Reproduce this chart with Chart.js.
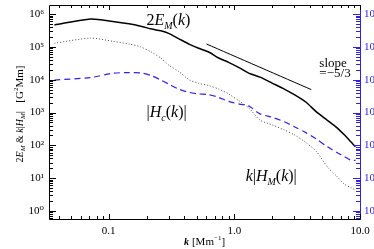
<!DOCTYPE html>
<html>
<head>
<meta charset="utf-8">
<script src="https://cdn.jsdelivr.net/npm/chart.js@4/dist/chart.umd.min.js"></script>
<style>
  html, body { margin: 0; padding: 0; background: #fff; overflow: hidden; width: 374px; height: 249px; }
  canvas { display: block; }
</style>
</head>
<body>
<canvas id="c" width="400" height="249"></canvas>
<script>
// ---- data ----
const kValues = [0.037, 0.072, 0.108, 0.145, 0.18, 0.22, 0.26, 0.30, 0.36, 0.44, 0.52, 0.63, 0.75, 0.9,
                 1.1, 1.3, 1.6, 2.0, 2.5, 3.0, 3.7, 4.5, 5.5, 6.5, 7.5, 8.5, 9.2];
const twoEM = [4.7e5, 7.1e5, 6.0e5, 5.1e5, 4.3e5, 3.5e5, 3.1e5, 2.6e5, 1.8e5, 1.2e5, 9.1e4, 6.9e4, 4.6e4, 3.4e4,
               2.3e4, 1.6e4, 1.2e4, 7.9e3, 5.2e3, 3.5e3, 2.1e3, 1.05e3, 580, 355, 210, 126, 91];
const kHM = [1.3e5, 1.86e5, 1.48e5, 1.23e5, 1.0e5, 6.9e4, 4.6e4, 2.8e4, 1.8e4, 9.8e3, 7.8e3, 6.6e3, 5.2e3, 3.7e3,
             2.2e3, 1.4e3, 590, 420, 295, 210, 123, 65, 22, 11.7, 6.6, 5.1, 4.4];
const Hc = [9.8e3, 1.17e4, 1.58e4, 1.66e4, 1.62e4, 1.32e4, 9.8e3, 7.4e3, 5.2e3, 4.1e3, 3.7e3, 3.5e3, 2.9e3, 2.2e3,
            1.8e3, 1.6e3, 910, 720, 525, 370, 245, 155, 91, 62, 46, 35, 35];
const slopeK = [0.6, 4.1];
const slopeVal = [1.23e5, 5.0e3];

const xTickValues = [0.1, 1, 10];
const xTickLabels = ['0.1', '1.0', '10.0'];
const yTickValues = [1, 10, 100, 1e3, 1e4, 1e5, 1e6];
const yTickLabels = ['10\u2070', '10\u00b9', '10\u00b2', '10\u00b3', '10\u2074', '10\u2075', '10\u2076'];

const X_MIN = 0.0335, X_MAX = 10, Y_MIN = 0.57, Y_MAX = 1.9e6;
const BLUE = '#3322dd';
const SERIF = "'Liberation Serif', 'DejaVu Serif', serif";

function pts(xs, ys) { return xs.map((k, i) => ({ x: k, y: ys[i] })); }

function drawRich(ctx, parts, x, y, align) {
  let w = 0;
  for (const p of parts) { ctx.font = p.font; w += ctx.measureText(p.t).width + (p.gap || 0); }
  let cx = align === 'center' ? x - w / 2 : x;
  for (const p of parts) {
    ctx.font = p.font;
    ctx.fillStyle = p.color || '#000';
    ctx.fillText(p.t, cx, y + (p.dy || 0));
    cx += ctx.measureText(p.t).width + (p.gap || 0);
  }
}

const framePlugin = {
  id: 'frame',
  afterDraw(chart) {
    const ctx = chart.ctx, ca = chart.chartArea;
    const xs = chart.scales.x, ys = chart.scales.y;
    ctx.save();
    ctx.lineWidth = 1;
    // frame
    ctx.strokeStyle = '#000';
    ctx.beginPath();
    ctx.moveTo(ca.right, ca.top + 0.5); ctx.lineTo(ca.left + 0.5, ca.top + 0.5);
    ctx.lineTo(ca.left + 0.5, ca.bottom + 0.5); ctx.lineTo(ca.right, ca.bottom + 0.5);
    ctx.stroke();
    ctx.strokeStyle = BLUE;
    ctx.beginPath();
    ctx.moveTo(ca.right + 0.5, ca.top); ctx.lineTo(ca.right + 0.5, ca.bottom + 1);
    ctx.stroke();
    // x ticks (bottom and top, inward)
    ctx.strokeStyle = '#000';
    ctx.beginPath();
    for (let d = -2; d <= 1; d++) {
      for (let m = 1; m <= 9; m++) {
        const v = m * Math.pow(10, d);
        if (v < X_MIN || v > X_MAX * 1.0001) continue;
        const px = Math.round(xs.getPixelForValue(v)) + 0.5;
        const len = m === 1 ? 5 : 3;
        ctx.moveTo(px, ca.bottom); ctx.lineTo(px, ca.bottom - len);
        ctx.moveTo(px, ca.top); ctx.lineTo(px, ca.top + len);
      }
    }
    ctx.stroke();
    // y ticks (left black, right blue)
    const yt = [];
    for (let d = -1; d <= 6; d++) {
      for (let m = 1; m <= 9; m++) {
        const v = m * Math.pow(10, d);
        if (v < Y_MIN || v > Y_MAX) continue;
        yt.push([Math.round(ys.getPixelForValue(v)) + 0.5, m === 1 ? 7 : 4]);
      }
    }
    ctx.beginPath();
    for (const [py, len] of yt) { ctx.moveTo(ca.left, py); ctx.lineTo(ca.left + len, py); }
    ctx.stroke();
    ctx.strokeStyle = BLUE;
    ctx.beginPath();
    for (const [py, len] of yt) { ctx.moveTo(ca.right, py); ctx.lineTo(ca.right - len, py); }
    ctx.stroke();

    // annotations
    ctx.textBaseline = 'alphabetic';
    const it16 = 'italic 16px ' + SERIF, up16 = '16px ' + SERIF, it10 = 'italic 10px ' + SERIF;
    drawRich(ctx, [
      { t: '2', font: up16 }, { t: 'E', font: it16 }, { t: 'M', font: it10, dy: 4 },
      { t: '(', font: up16 }, { t: 'k', font: it16 }, { t: ')', font: up16 }
    ], xs.getPixelForValue(0.2), ys.getPixelForValue(4.7e5), 'left');
    drawRich(ctx, [
      { t: '|', font: up16 }, { t: 'H', font: it16 }, { t: 'c', font: it10, dy: 4 },
      { t: '(', font: up16 }, { t: 'k', font: it16 }, { t: ')|', font: up16 }
    ], xs.getPixelForValue(0.2), ys.getPixelForValue(750), 'left');
    drawRich(ctx, [
      { t: 'k', font: it16 }, { t: '|', font: up16 }, { t: 'H', font: it16 }, { t: 'M', font: it10, dy: 4 },
      { t: '(', font: up16 }, { t: 'k', font: it16 }, { t: ')|', font: up16 }
    ], xs.getPixelForValue(1.23), ys.getPixelForValue(8.2), 'left');
    ctx.font = '13px ' + SERIF;
    ctx.fillStyle = '#000';
    ctx.fillText('slope', xs.getPixelForValue(4.75), ys.getPixelForValue(2.4e4));
    ctx.fillText('=\u22125/3', xs.getPixelForValue(4.75), ys.getPixelForValue(1.2e4));

    // axis titles
    ctx.textBaseline = 'middle';
    const itB = 'italic bold 10px ' + SERIF, up11 = '11px ' + SERIF, sup = '7px ' + SERIF;
    drawRich(ctx, [
      { t: 'k', font: itB, gap: 3 }, { t: '[Mm', font: up11 }, { t: '\u22121', font: sup, dy: -4 }, { t: ']', font: up11 }
    ], (ca.left + ca.right) / 2, 242, 'center');
    ctx.translate(20, (ca.top + ca.bottom) / 2 + 2);
    ctx.rotate(-Math.PI / 2);
    const it10b = 'italic 10px ' + SERIF, sub7 = 'italic 7px ' + SERIF;
    drawRich(ctx, [
      { t: '2', font: '10px ' + SERIF }, { t: 'E', font: it10b }, { t: 'M', font: sub7, dy: 3 },
      { t: ' & ', font: '10px ' + SERIF }, { t: 'k', font: it10b }, { t: '|', font: '10px ' + SERIF },
      { t: 'H', font: it10b }, { t: 'M', font: sub7, dy: 3 }, { t: '|   [G', font: up11 },
      { t: '2', font: sup, dy: -4 }, { t: 'Mm]', font: up11 }
    ], 0, 0, 'center');
    ctx.restore();
  }
};

function noPad(s) { s.paddingTop = 0; s.paddingBottom = 0; s.paddingLeft = 0; s.paddingRight = 0; }

new Chart(document.getElementById('c'), {
  type: 'line',
  data: {
    datasets: [
      { data: pts(kValues, twoEM), borderColor: '#000', borderWidth: 1.5 },
      { data: pts(kValues, kHM), borderColor: '#444', borderWidth: 1, borderDash: [1, 2] },
      { data: pts(kValues, Hc), borderColor: BLUE, borderWidth: 1.2, borderDash: [6, 4] },
      { data: pts(slopeK, slopeVal), borderColor: '#000', borderWidth: 1 }
    ]
  },
  options: {
    responsive: false,
    animation: false,
    events: [],
    layout: { padding: { top: 5, left: 0, right: 0, bottom: 0 } },
    elements: { point: { radius: 0 }, line: { tension: 0.25, fill: false } },
    plugins: { legend: { display: false }, tooltip: { enabled: false }, title: { display: false } },
    scales: {
      x: {
        type: 'logarithmic', min: X_MIN, max: X_MAX,
        grid: { display: false, drawTicks: false }, border: { display: false },
        afterBuildTicks: s => { s.ticks = xTickValues.map(v => ({ value: v })); },
        afterFit: s => { s.height = 30; noPad(s); },
        ticks: {
          autoSkip: false, maxRotation: 0, padding: 6, color: '#000',
          font: { family: SERIF, size: 11 },
          callback: (v) => xTickLabels[xTickValues.indexOf(v)]
        }
      },
      y: {
        type: 'logarithmic', position: 'left', min: Y_MIN, max: Y_MAX,
        grid: { display: false, drawTicks: false }, border: { display: false },
        afterBuildTicks: s => { s.ticks = yTickValues.map(v => ({ value: v })); },
        afterFit: s => { s.width = 49; noPad(s); },
        ticks: {
          autoSkip: false, padding: 5, color: '#000',
          font: { family: SERIF, size: 11 },
          callback: (v) => yTickLabels[yTickValues.indexOf(v)]
        }
      },
      y2: {
        type: 'logarithmic', position: 'right', min: Y_MIN, max: Y_MAX,
        grid: { display: false, drawTicks: false }, border: { display: false },
        afterBuildTicks: s => { s.ticks = yTickValues.map(v => ({ value: v })); },
        afterFit: s => { s.width = 40; noPad(s); },
        ticks: {
          autoSkip: false, padding: 4, color: BLUE,
          font: { family: SERIF, size: 11 },
          callback: (v) => yTickLabels[yTickValues.indexOf(v)]
        }
      }
    }
  },
  plugins: [framePlugin]
});
</script>
</body>
</html>
